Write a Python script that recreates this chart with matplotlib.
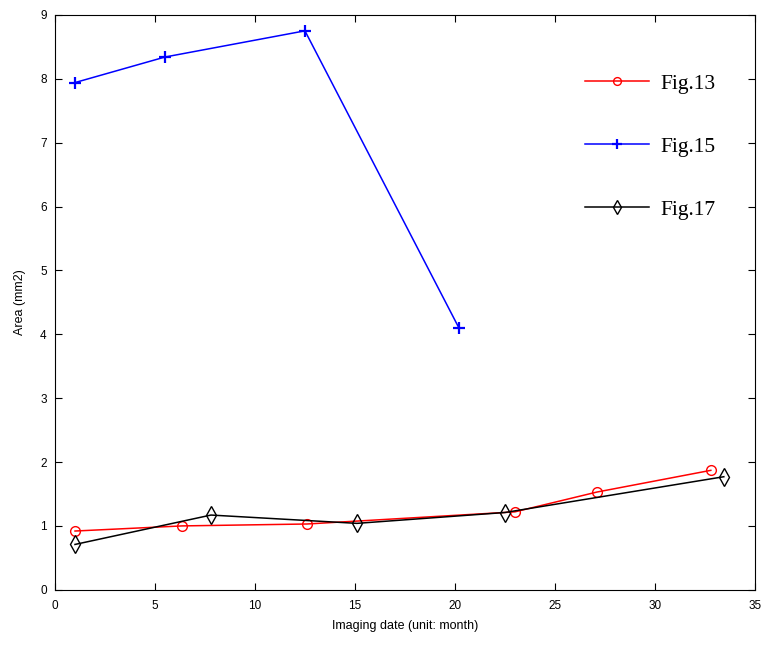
import matplotlib
matplotlib.use("Agg")
import matplotlib.pyplot as plt

fig13_x = [1.0, 6.35, 12.6, 23.0, 27.1, 32.8]
fig13_y = [0.92, 1.0, 1.03, 1.22, 1.53, 1.87]
fig15_x = [1.0, 5.5, 12.5, 20.2]
fig15_y = [7.94, 8.34, 8.75, 4.1]
fig17_x = [1.0, 7.8, 15.1, 22.5, 33.45]
fig17_y = [0.71, 1.17, 1.04, 1.21, 1.77]

fig = plt.figure(figsize=(7.64, 6.46), dpi=100)
ax = fig.add_axes([0.072, 0.087, 0.916, 0.89])

ax.plot(fig13_x, fig13_y, color='red', lw=1.1, marker='o', ms=7, mfc='none', mec='red', mew=1.0, label='Fig.13')
ax.plot(fig15_x, fig15_y, color='blue', lw=1.1, marker='+', ms=9, mew=1.6, label='Fig.15')
ax.plot(fig17_x, fig17_y, color='black', lw=1.1, marker='d', ms=9, mfc='none', mec='black', mew=1.0, label='Fig.17')

ax.set_xlim(0, 35)
ax.set_ylim(0, 9)
ax.set_xticks(range(0, 36, 5))
ax.set_yticks(range(0, 10))
ax.tick_params(direction='in', top=True, right=True, labelsize=8.5, length=5)
ax.tick_params(axis='x', pad=7)
ax.tick_params(axis='y', pad=6)
for lab in ax.get_xticklabels() + ax.get_yticklabels():
    lab.set_family('Liberation Sans')
ax.set_xlabel('Imaging date (unit: month)', fontsize=9, family='Liberation Sans', labelpad=6)
ax.set_ylabel('Area (mm2)', fontsize=9, family='Liberation Sans', labelpad=10)

leg = ax.legend(loc='upper left', bbox_to_anchor=(0.757, 0.898), frameon=False,
                prop={'family': 'Liberation Serif', 'size': 15.5}, labelspacing=2.0,
                handlelength=3.0, handletextpad=0.5, borderpad=0, borderaxespad=0,
                markerscale=0.8)

fig.savefig('out.png', dpi=100)
